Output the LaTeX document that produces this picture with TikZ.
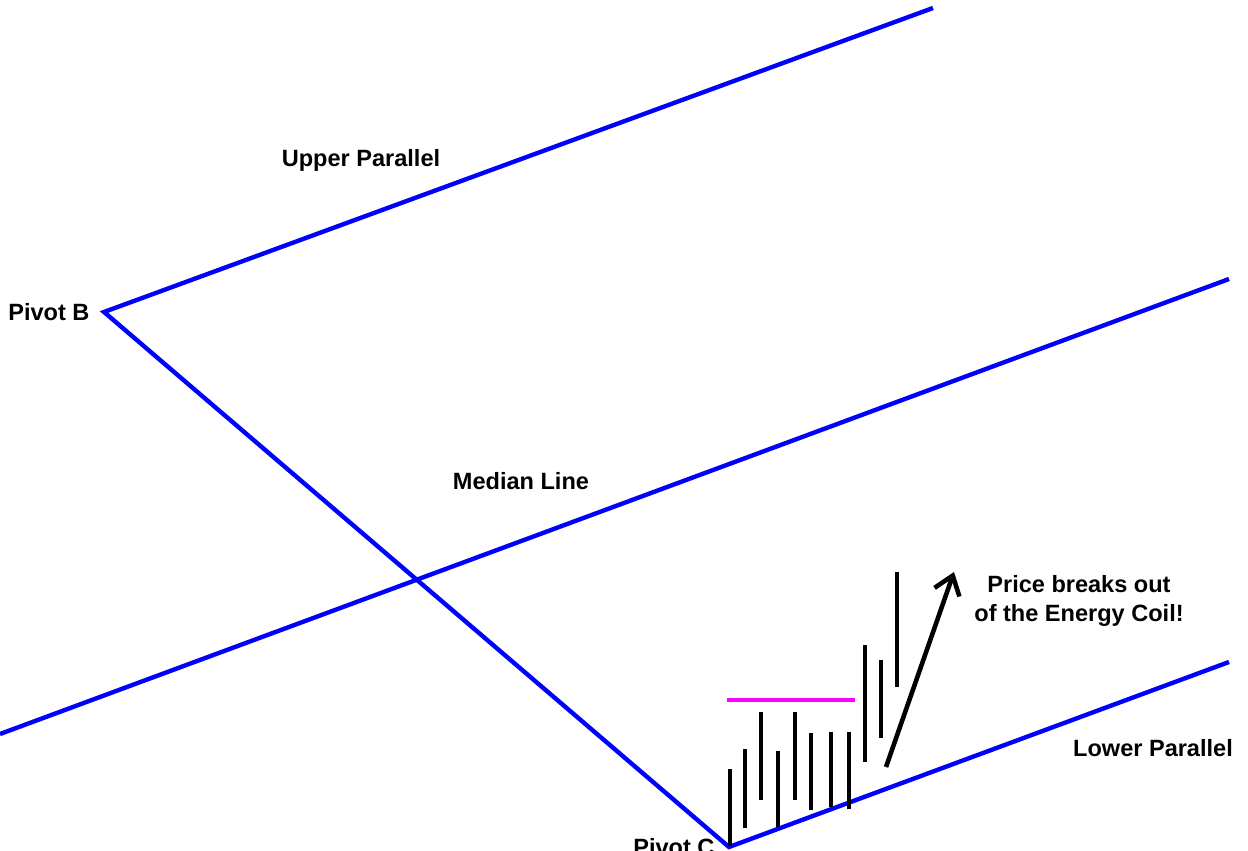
\documentclass[tikz,border=0pt]{standalone}
\usepackage{fontspec}
\setmainfont{Liberation Sans}
\usetikzlibrary{arrows.meta}
\definecolor{pinkline}{RGB}{255,0,255}
\definecolor{forkblue}{RGB}{0,0,255}
\begin{document}
\begin{tikzpicture}[x=0.02cm,y=-0.02cm,
  fork/.style={draw=forkblue,line width=2.5pt},
  bar/.style={draw=black,line width=2.6pt},
  lbl/.style={font=\fontsize{13.4}{16.5}\selectfont\bfseries,inner sep=0pt,text=black}]
\useasboundingbox (0,0) rectangle (1248,851);
% pivots and line ends
\coordinate (B) at (104,312);
\coordinate (C) at (729,847);
\coordinate (UE) at (933,8);
\coordinate (LE) at (1229,662);
\coordinate (MS) at (0,734);
\coordinate (ME) at (1229,279);
\draw[fork,line join=miter] (UE) -- (B) -- (C) -- (LE);
\draw[fork] (MS) -- (ME);
% magenta resistance
\coordinate (P1) at (727,700);
\coordinate (P2) at (855,700);
\draw[draw=pinkline,line width=2.6pt] (P1) -- (P2);
% bars
\foreach \x/\t/\b [count=\i] in {730/769/846,745/749/828,761/712/800,778/751/827,795/712/800,811/733/810,831/732/807,849/732/809,865/645/762,881/660/738,897/572/687}{
  \coordinate (t\i) at (\x,\t);
  \coordinate (b\i) at (\x,\b);
  \draw[bar] (t\i) -- (b\i);
}
% arrow
\coordinate (A1) at (886,767);
\coordinate (A2) at (954,572);
\draw[bar,-{Straight Barb[length=10pt,width=15pt,line width=2.6pt]}] (A1) -- (A2);
% labels
\node[lbl] (up) at (361,160) {Upper Parallel};
\node[lbl,anchor=west] (pb) at (8,312) {Pivot B};
\node[lbl] (ml) at (521,481) {Median Line};
\node[lbl,align=center] (pr) at (1079,601) {Price breaks out\\of the Energy Coil!};
\node[lbl] (lp) at (1153,748) {Lower Parallel};
\node[lbl,anchor=west] (pc) at (633,847) {Pivot C};
\end{tikzpicture}
\end{document}
